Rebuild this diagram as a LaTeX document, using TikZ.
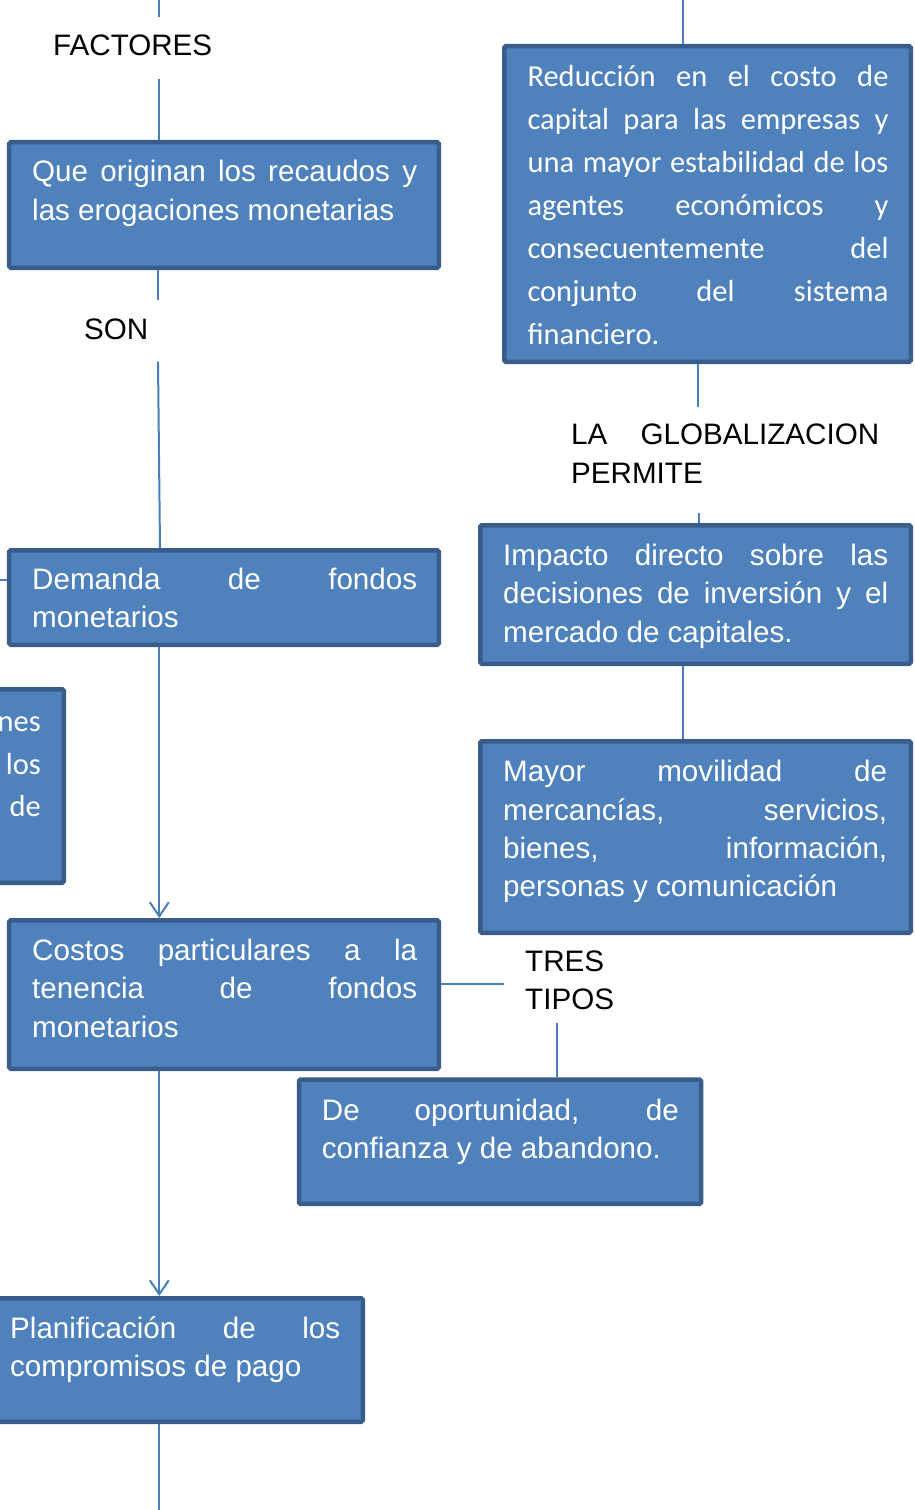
\documentclass[tikz,border=0pt]{standalone}
\usepackage{fontspec}
\setmainfont{Liberation Sans}
\newfontfamily\calfont{Carlito}
\usetikzlibrary{arrows.meta}
\definecolor{boxfill}{HTML}{4F81BD}
\definecolor{boxline}{HTML}{385D8A}
\definecolor{conn}{HTML}{4A7EBB}
\newcommand\jl[2]{\makebox[#1][s]{#2}}
\tikzset{
  box/.style={rectangle, draw=boxline, fill=boxfill, line width=4.5bp, rounded corners=1.5bp, inner sep=0pt},
  wtxt/.style={text=white, inner sep=0pt, anchor=base west, font=\fontsize{29.6bp}{38.4bp}\selectfont},
  ctxt/.style={text=white, inner sep=0pt, anchor=base west, font=\calfont\fontsize{30.5bp}{43bp}\selectfont},
  ltxt/.style={text=black, inner sep=0pt, anchor=base west, font=\fontsize{29.6bp}{39bp}\selectfont},
  conn/.style={draw=conn, line width=2bp},
  arr/.style={conn, -{Straight Barb[length=14bp,width=19bp]}}
}
\begin{document}
\begin{tikzpicture}[x=1bp,y=-1bp]
\useasboundingbox (0,0) rectangle (914,1510);
\clip (0,0) rectangle (914,1510);
% boxes
\node[box, minimum width=429.5bp, minimum height=125.5bp] (b1) at (224,205) {};
\node[box, minimum width=406.5bp, minimum height=315.5bp] (b2) at (707.5,204) {};
\node[box, minimum width=429.5bp, minimum height=94.5bp] (b3) at (224,597.5) {};
\node[box, minimum width=430.5bp, minimum height=138.5bp] (b4) at (695.5,594.5) {};
\node[box, minimum width=461.5bp, minimum height=193.5bp] (b5) at (-167,786) {};
\node[box, minimum width=430.5bp, minimum height=191.5bp] (b6) at (695.5,837) {};
\node[box, minimum width=429.5bp, minimum height=148.5bp] (b7) at (224,994.5) {};
\node[box, minimum width=402bp, minimum height=124.3bp] (b8) at (500,1141.7) {};
\node[box, minimum width=760.5bp, minimum height=123.5bp] (b9) at (-17.5,1360) {};
% box texts
\node[wtxt] (t1) at (32,181.7) {\parbox[t]{385bp}{\jl{385bp}{Que originan los recaudos y}\\las erogaciones monetarias}};
\node[ctxt] (t2) at (527.3,86.7) {\parbox[t]{361bp}{\jl{361bp}{Reducción en el costo de}\\\jl{361bp}{capital para las empresas y}\\\jl{361bp}{una mayor estabilidad de los}\\\jl{361bp}{agentes económicos y}\\\jl{361bp}{consecuentemente del}\\\jl{361bp}{conjunto del sistema}\\financiero.}};
\node[wtxt] (t3) at (32,589.5) {\parbox[t]{385bp}{\jl{385bp}{Demanda de fondos}\\monetarios}};
\node[wtxt] (t4) at (503,565.5) {\parbox[t]{385bp}{\jl{385bp}{Impacto directo sobre las}\\\jl{385bp}{decisiones de inversión y el}\\mercado de capitales.}};
\node[text=white, inner sep=0pt, anchor=base east, font=\calfont\fontsize{30.5bp}{42.5bp}\selectfont] (t5) at (41,731.7) {\parbox[t]{100bp}{\raggedleft nes\\los\\de}};
\node[wtxt] (t6) at (503,781.7) {\parbox[t]{384bp}{\jl{384bp}{Mayor movilidad de}\\\jl{384bp}{mercancías, servicios,}\\\jl{384bp}{bienes, información,}\\personas y comunicación}};
\node[wtxt] (t7) at (32,960.5) {\parbox[t]{385bp}{\jl{385bp}{Costos particulares a la}\\\jl{385bp}{tenencia de fondos}\\monetarios}};
\node[wtxt] (t8) at (321.7,1120) {\parbox[t]{357bp}{\jl{357bp}{De oportunidad, de}\\confianza y de abandono.}};
\node[wtxt] (t9) at (10,1338.4) {\parbox[t]{330bp}{\jl{330bp}{Planificación de los}\\compromisos de pago}};
% labels
\node[ltxt] (fac) at (53,56) {FACTORES};
\node[ltxt] (son) at (84,339.3) {SON};
\node[ltxt] (glob) at (571,444.3) {\parbox[t]{308bp}{\jl{308bp}{LA GLOBALIZACION}\\PERMITE}};
\node[ltxt, font=\fontsize{29.6bp}{37.3bp}\selectfont] (tres) at (525,971.7) {\parbox[t]{120bp}{TRES\\TIPOS}};
% connector end points
\coordinate (c0) at (159.3,0);
\coordinate (c1) at (159.3,17.5);
\coordinate (c2) at (159.3,79.5);
\coordinate (c3) at (158,300);
\coordinate (c4) at (158,361.7);
\coordinate (c5) at (160,0);
\coordinate (c6) at (0,580);
\coordinate (c7) at (159.3,0);
\coordinate (c8) at (159.3,1510);
\coordinate (r0) at (683.3,0);
\coordinate (r1) at (698.3,0);
\coordinate (r2) at (698.3,406.7);
\coordinate (r3) at (698.5,513.3);
\coordinate (r4) at (683.3,0);
\coordinate (r5) at (504,983.7);
\coordinate (r6) at (556.5,1023.3);
% connectors
\draw[conn] (c0) -- (c1);
\draw[conn] (c2) -- (c2 |- b1.north);
\draw[conn] (c3 |- b1.south) -- (c3);
\draw[conn] (c4) -- (c5 |- b3.north);
\draw[conn] (c6) -- (c6 -| b3.west);
\draw[arr] (c7 |- b3.south) -- (c7 |- b7.north);
\draw[arr] (c7 |- b7.south) -- (c7 |- b9.north);
\draw[conn] (c8 |- b9.south) -- (c8);
\draw[conn] (r0) -- (r0 |- b2.north);
\draw[conn] (r1 |- b2.south) -- (r2);
\draw[conn] (r3) -- (r3 |- b4.north);
\draw[conn] (r4 |- b4.south) -- (r4 |- b6.north);
\draw[conn] (r5 -| b7.east) -- (r5);
\draw[conn] (r6) -- (r6 |- b8.north);
\end{tikzpicture}
\end{document}
